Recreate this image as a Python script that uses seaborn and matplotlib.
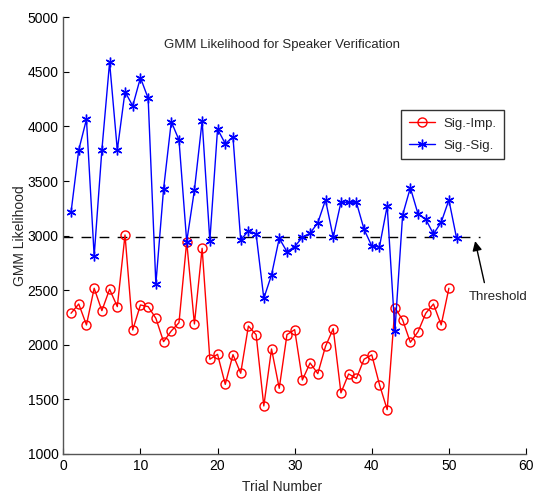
import matplotlib
matplotlib.use("Agg")
import matplotlib.pyplot as plt
import seaborn as sns
import pandas as pd
import numpy as np

trials_imp = list(range(1, 51))
sig_imp = [2289, 2374, 2182, 2518, 2313, 2509, 2350, 3006, 2136, 2365,
           2350, 2243, 2029, 2127, 2203, 2945, 2191, 2884, 1868, 1913,
           1638, 1910, 1740, 2172, 2093, 1440, 1962, 1602, 2093, 2139,
           1678, 1834, 1736, 1986, 2148, 1560, 1733, 1692, 1868, 1908,
           1635, 1406, 2340, 2228, 2023, 2120, 2289, 2374, 2182, 2518]
trials_sig = list(range(1, 52))
sig_sig = [3214, 3785, 4066, 2814, 3785, 4588, 3785, 4319, 4188, 4447,
           4258, 2557, 3427, 4044, 3876, 2945, 3418, 4050, 2954, 3977,
           3842, 3904, 2960, 3043, 3015, 2426, 2640, 2976, 2853, 2899,
           2985, 3022, 3118, 3327, 2985, 3306, 3306, 3306, 3058, 2905,
           2899, 3272, 2127, 3189, 3439, 3198, 3150, 3015, 3122, 3327,
           2976]
threshold_x = [0, 54]
threshold_y = [2990, 2990]

xticks = [0, 10, 20, 30, 40, 50, 60]
yticks = [1000, 1500, 2000, 2500, 3000, 3500, 4000, 4500, 5000]

sns.set_style("ticks")
plt.rcParams['font.family'] = ['Liberation Sans', 'DejaVu Sans']

fig = plt.figure(figsize=(5.38, 4.96), dpi=100)
ax = fig.add_axes([0.1177, 0.0847, 0.86, 0.8804])

df_imp = pd.DataFrame({"Trial": trials_imp, "L": sig_imp})
df_sig = pd.DataFrame({"Trial": trials_sig, "L": sig_sig})

ax.plot(threshold_x, threshold_y, color='black', lw=1.0, ls=(0, (7, 6)), zorder=1)

sns.lineplot(data=df_imp, x="Trial", y="L", ax=ax, color='red', lw=1.0,
             marker='o', markersize=6.5, markerfacecolor='none',
             markeredgecolor='red', markeredgewidth=1.0, label='Sig.-Imp.', zorder=3)
sns.lineplot(data=df_sig, x="Trial", y="L", ax=ax, color='blue', lw=1.0,
             marker=(6, 2, 0), markersize=7, markeredgecolor='blue',
             markeredgewidth=1.0, label='Sig.-Sig.', zorder=4)

ax.set_xlim(0, 60)
ax.set_ylim(1000, 5000)
ax.set_xticks(xticks)
ax.set_yticks(yticks)
ax.tick_params(direction='in', length=4, labelsize=10, colors='black', width=0.8)
for s in ['top', 'right']:
    ax.spines[s].set_visible(False)
for s in ['left', 'bottom']:
    ax.spines[s].set_color('#555555')
    ax.spines[s].set_linewidth(1.0)

ax.set_xlabel("Trial Number", fontsize=10)
ax.set_ylabel("GMM Likelihood", fontsize=10)
ax.xaxis.set_label_coords(0.473, -0.0595)
ax.yaxis.set_label_coords(-0.0785, 0.5)

ax.text(0.473, 0.937, "GMM Likelihood for Speaker Verification",
        transform=ax.transAxes, ha='center', va='center', fontsize=9.5)

ax.annotate("", xy=(53.4, 2950), xytext=(54.6, 2570),
            arrowprops=dict(arrowstyle='-|>', color='black', lw=1.0,
                            mutation_scale=14, shrinkA=0, shrinkB=0))
ax.text(52.6, 2440, "Threshold", fontsize=9.5, ha='left', va='center')

leg = ax.legend(loc='upper left', bbox_to_anchor=(0.730, 0.788), fontsize=9.5,
                frameon=True, fancybox=False, edgecolor='black',
                borderpad=0.6, handlelength=2.0, labelspacing=0.7,
                handletextpad=0.6, borderaxespad=0)
leg.get_frame().set_linewidth(1.0)

fig.savefig("out.png", dpi=100)
